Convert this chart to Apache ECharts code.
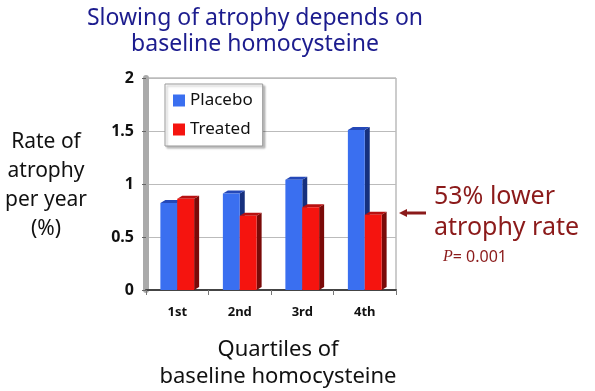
<!DOCTYPE html>
<html><head><meta charset="utf-8">
<script src="https://cdn.jsdelivr.net/npm/echarts@6/dist/echarts.min.js"></script>
<style>html,body{margin:0;padding:0;background:#fff}#c{width:595px;height:391px}</style>
</head><body><div id="c"></div>
<script>
const categories = ['1st', '2nd', '3rd', '4th'];
const placebo = [0.82, 0.91, 1.04, 1.51];
const treated = [0.86, 0.70, 0.78, 0.71];
const yTicks = [0, 0.5, 1, 1.5, 2];

const FONT = '"Noto Sans", sans-serif';
const chart = echarts.init(document.getElementById('c'));

function makeRender(side, front, dark, top) {
  return function (params, api) {
    const idx = api.value(0);
    const v = api.value(1);
    const p = api.coord([idx, v]);
    const b = api.coord([idx, 0]);
    const band = api.size([1, 0])[0];
    const w = band * 0.27;
    const d = 5;
    const x0 = side < 0 ? p[0] - w : p[0];
    const yT = p[1], yB = b[1];
    return {
      type: 'group',
      children: [
        { type: 'polygon', shape: { points: [[x0 + w, yT], [x0 + w + d, yT - 3], [x0 + w + d, yB - 3], [x0 + w, yB]] }, style: { fill: dark } },
        { type: 'polygon', shape: { points: [[x0, yT], [x0 + d, yT - 3], [x0 + w + d, yT - 3], [x0 + w, yT]] }, style: { fill: top } },
        { type: 'rect', shape: { x: x0, y: yT, width: w, height: yB - yT }, style: { fill: front } }
      ]
    };
  };
}

chart.setOption({
  animation: false,
  title: {
    text: 'Slowing of atrophy depends on\nbaseline homocysteine',
    left: 250, top: 0, textAlign: 'center',
    textStyle: { color: '#1c1c8e', fontFamily: FONT, fontSize: 23, fontWeight: 'normal', lineHeight: 26 }
  },
  legend: {
    orient: 'vertical', left: 165, top: 84,
    data: ['Placebo', 'Treated'],
    backgroundColor: '#fff', borderColor: '#999', borderWidth: 1,
    padding: [8, 10, 8, 8], itemGap: 12, itemWidth: 12, itemHeight: 12,
    shadowColor: 'rgba(0,0,0,0.25)', shadowBlur: 2, shadowOffsetX: 2, shadowOffsetY: 2,
    textStyle: { fontFamily: FONT, fontSize: 17, color: '#111' },
    icon: 'rect'
  },
  grid: { left: 146, right: 199, top: 78, bottom: 101, outerBoundsMode: 'none', show: true, borderColor: '#999', borderWidth: 1, backgroundColor: '#fff' },
  xAxis: {
    type: 'category', data: categories,
    axisLine: { lineStyle: { color: '#444', width: 2 } },
    axisTick: { show: true, lineStyle: { color: '#777' } },
    axisLabel: { margin: 16, fontFamily: FONT, fontSize: 13, fontWeight: 'bold', color: '#111' },
    name: 'Quartiles of\nbaseline homocysteine', nameLocation: 'middle', nameGap: 46,
    nameTextStyle: { fontFamily: FONT, fontSize: 22, color: '#111', lineHeight: 27, padding: [0, 0, 0, 14] }
  },
  yAxis: {
    type: 'value', min: 0, max: 2, interval: 0.5,
    axisLine: { show: true, lineStyle: { color: '#aaa', width: 6 } },
    axisTick: { show: true, length: 4, lineStyle: { color: '#666' } },
    axisLabel: { margin: 12, fontFamily: FONT, fontSize: 16, fontWeight: 'bold', color: '#111', formatter: v => yTicks.includes(v) ? String(v) : '' },
    splitLine: { lineStyle: { color: '#bbb' } }
  },
  series: [
    {
      name: 'Placebo', type: 'custom', itemStyle: { color: '#3a6ff0' },
      renderItem: makeRender(-1, '#3a6ff0', '#16307e', '#2448b8'),
      data: placebo.map((v, i) => [i, v]), encode: { x: 0, y: 1 }
    },
    {
      name: 'Treated', type: 'custom', itemStyle: { color: '#f5140f' },
      renderItem: makeRender(1, '#f5140f', '#7a0a08', '#b81010'),
      data: treated.map((v, i) => [i, v]), encode: { x: 0, y: 1 }
    }
  ],
  graphic: [
    { type: 'text', x: 46, y: 128, style: { text: 'Rate of\natrophy\nper year\n(%)', textAlign: 'center', fill: '#111', font: '21px ' + FONT, lineHeight: 29 } },
    { type: 'line', shape: { x1: 404, y1: 213, x2: 426, y2: 213 }, style: { stroke: '#8b1a1a', lineWidth: 3 } },
    { type: 'polygon', shape: { points: [[399, 213], [407, 209], [407, 217]] }, style: { fill: '#8b1a1a' } },
    { type: 'text', x: 434, y: 181, style: { text: '53% lower\natrophy rate', fill: '#8b1a1a', font: '25px ' + FONT, lineHeight: 31 } },
    { type: 'text', x: 443, y: 249, style: { rich: { p: { fontStyle: 'italic', fontSize: 16, fill: '#8b1a1a', fontFamily: 'serif' }, t: { fontSize: 16, fill: '#8b1a1a', fontFamily: FONT } }, text: '{p|P}{t|= 0.001}' } }
  ]
});
</script></body></html>
